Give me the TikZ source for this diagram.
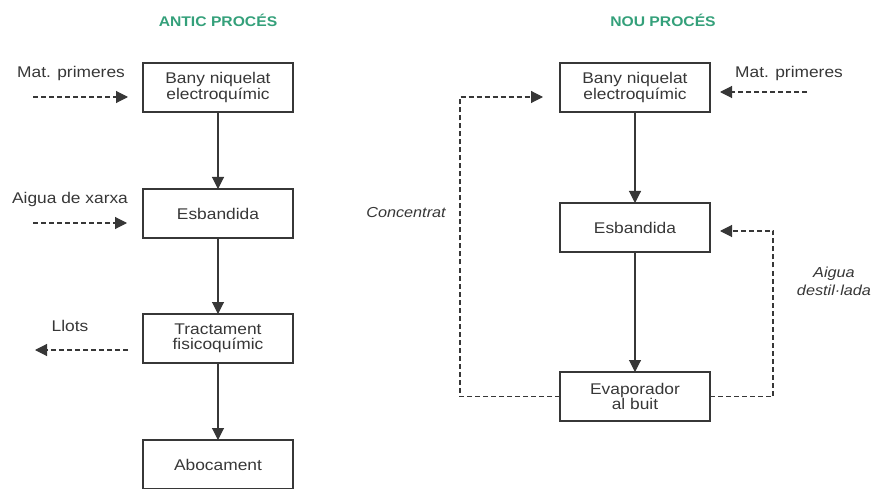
\documentclass[tikz,border=0pt]{standalone}
\usepackage{fontspec}
\setmainfont{Liberation Sans}[FakeStretch=1.12]
\usepackage{xcolor}
\usepackage{tikz}
\usetikzlibrary{positioning,calc,arrows.meta}

\definecolor{titlegreen}{RGB}{52,160,122}
\definecolor{ink}{RGB}{55,55,55}

\begin{document}
\begin{tikzpicture}[
    x=1pt, y=1pt,
    node distance=77pt,
    outer sep=0pt,
    proc/.style={draw=ink, line width=1.1pt, rectangle, minimum width=150pt, minimum height=49pt, align=center, text=ink, font=\fontsize{15.5}{15.5}\selectfont},
    lbl/.style={text=ink, align=center, font=\fontsize{15.5}{17}\selectfont},
    ilbl/.style={lbl, font=\fontsize{14.5}{18}\selectfont\itshape},
    ttl/.style={text=titlegreen, font=\fontsize{14}{14}\selectfont\bfseries},
    flow/.style={draw=ink, line width=1.1pt, -{Triangle[length=12pt,width=12pt]}},
    feed/.style={flow, dash pattern=on 5pt off 3pt}
]
    \useasboundingbox (0,0) rectangle (873,488);
    \clip (0,0) rectangle (873,488);

    \node [ttl] (tantic) at (218,468) {ANTIC PROCÉS};
    \node [ttl] (tnou) at (663,468) {NOU PROCÉS};

    \node [proc] (a1) at (218,400.5) {Bany niquelat\\electroquímic};
    \node [proc, below=of a1] (a2) {Esbandida};
    \node [proc, below=76pt of a2] (a3) {Tractament\\fisicoquímic};
    \node [proc, below=of a3] (a4) {Abocament};

    \draw [flow] (a1) -- (a2);
    \draw [flow] (a2) -- (a3);
    \draw [flow] (a3) -- (a4);

    \coordinate (matA0) at (33,391);
    \coordinate (matA) at (128,391);
    \coordinate (aigA0) at (33,265);
    \coordinate (aigA) at (127,265);
    \coordinate (llots0) at (128,138);
    \coordinate (llots) at (35,138);
    \draw [feed] (matA0) -- (matA);
    \draw [feed] (aigA0) -- (aigA);
    \draw [feed] (llots0) -- (llots);
    \node [lbl] (matAtxt) at (71,415) {Mat. primeres};
    \node [lbl] (aigAtxt) at (70,289) {Aigua de xarxa};
    \node [lbl] (llotstxt) at (70,162) {Llots};

    \node [proc] (b1) at (635,400.5) {Bany niquelat\\electroquímic};
    \node [proc, below=91pt of b1] (b2) {Esbandida};
    \node [proc, below=120pt of b2] (b3) {Evaporador\\al buit};

    \draw [flow] (b1) -- (b2);
    \draw [flow] (b2) -- (b3);

    \coordinate (matB0) at (807,396);
    \coordinate (matB) at (720,396);
    \draw [feed] (matB0) -- (matB);
    \node [lbl] (matBtxt) at (789,415) {Mat. primeres};

    \coordinate (conc) at (460,391);
    \coordinate (concEnd) at (543,391);
    \draw [feed] (b3.west) -| (conc) -- (concEnd);
    \node [ilbl] (conctxt) at (406,275) {Concentrat};

    \coordinate (dest) at (773,257);
    \coordinate (destEnd) at (720,257);
    \draw [feed] (b3.east) -| (dest) -- (destEnd);
    \node [ilbl] (desttxt) at (834,207) {Aigua\\destil·lada};
\end{tikzpicture}
\end{document}
